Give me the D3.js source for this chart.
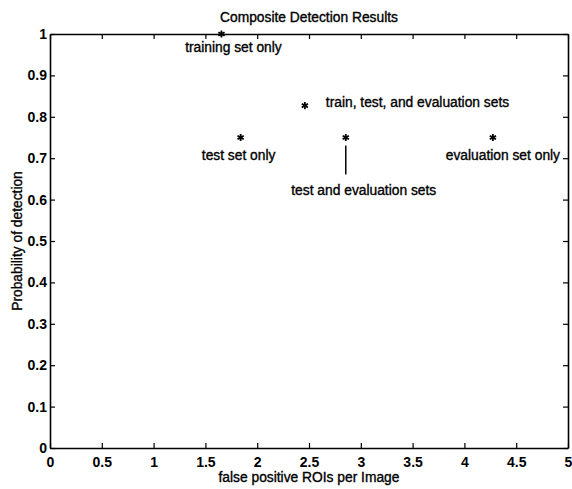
<!DOCTYPE html>
<html lang="en">
<head>
<meta charset="utf-8" />
<script src="https://d3js.org/d3.v7.min.js"></script>
<style>
  body { margin: 0; background: #fff; }
  text { font-family: "Liberation Sans", Arial, sans-serif; fill: #000; }
  .tick text { font-size: 14px; font-weight: bold; }
  .lbl { font-size: 13.8px; stroke: #000; stroke-width: 0.35px; }
</style>
</head>
<body>
<script>
// data
var setNames = ["training set only", "test set only", "train, test, and evaluation sets",
                "test and evaluation sets", "evaluation set only"];
var falsePos = [1.655, 1.84, 2.46, 2.855, 4.275];
var probDet  = [1.0, 0.75, 0.827, 0.75, 0.75];
var xTicks = [0, 0.5, 1, 1.5, 2, 2.5, 3, 3.5, 4, 4.5, 5];
var yTicks = [0, 0.1, 0.2, 0.3, 0.4, 0.5, 0.6, 0.7, 0.8, 0.9, 1];

// label placement relative to each point (px)
var labelPos = [
  {dx: 12, dy: 13, anchor: "middle"},
  {dx: -2, dy: 18, anchor: "middle"},
  {dx: 21, dy: -3, anchor: "start"},
  {dx: 18, dy: 53, anchor: "middle", stem: [8, 37]},
  {dx: 10, dy: 18, anchor: "middle"}
];

var width = 572, height = 489;
var margin = {top: 34, right: 4, bottom: 41, left: 50};

var svg = d3.select("body").append("svg")
    .attr("width", width)
    .attr("height", height);

var x = d3.scaleLinear().domain([0, 5]).range([margin.left, width - margin.right]);
var y = d3.scaleLinear().domain([0, 1]).range([height - margin.bottom, margin.top]);

function fmt(d) { return Number.isInteger(d) ? d3.format("d")(d) : d3.format(".1f")(d); }

// axes with inward ticks on all four sides
var g = svg.append("g");
g.append("g").attr("transform", "translate(0," + y(0) + ")")
  .call(d3.axisBottom(x).tickValues(xTicks).tickFormat(fmt).tickSizeInner(-5).tickSizeOuter(0).tickPadding(9));
g.append("g").attr("transform", "translate(0," + y(1) + ")")
  .call(d3.axisTop(x).tickValues(xTicks).tickFormat("").tickSizeInner(-5).tickSizeOuter(0));
g.append("g").attr("transform", "translate(" + x(0) + ",0)")
  .call(d3.axisLeft(y).tickValues(yTicks).tickFormat(fmt).tickSizeInner(-5).tickSizeOuter(0).tickPadding(3));
g.append("g").attr("transform", "translate(" + x(5) + ",0)")
  .call(d3.axisRight(y).tickValues(yTicks).tickFormat("").tickSizeInner(-5).tickSizeOuter(0));
g.selectAll(".domain").attr("stroke", "#000").attr("stroke-width", 1.6);
g.selectAll(".tick line").attr("stroke", "#000").attr("stroke-width", 1.2);
g.selectAll(".tick text").attr("font-family", null).attr("font-size", null);

// titles
svg.append("text").attr("class", "lbl")
  .attr("x", (x(0) + x(5)) / 2).attr("y", 22)
  .attr("text-anchor", "middle").text("Composite Detection Results");
svg.append("text").attr("class", "lbl")
  .attr("x", (x(0) + x(5)) / 2).attr("y", 482)
  .attr("text-anchor", "middle").text("false positive ROIs per Image");
svg.append("text").attr("class", "lbl")
  .attr("transform", "translate(22," + ((y(0) + y(1)) / 2) + ") rotate(-90)")
  .attr("text-anchor", "middle").text("Probability of detection");

// points
var pts = setNames.map(function (n, i) {
  return {name: n, x: falsePos[i], y: probDet[i], lp: labelPos[i]};
});

svg.selectAll("path.pt").data(pts).enter().append("path")
  .attr("class", "pt")
  .attr("transform", function (d) { return "translate(" + x(d.x) + "," + y(d.y) + ")"; })
  .attr("d", d3.symbol().type(d3.symbolAsterisk).size(36))
  .attr("fill", "none").attr("stroke", "#000").attr("stroke-width", 1.8);

svg.selectAll("text.pl").data(pts).enter().append("text")
  .attr("class", "pl lbl")
  .attr("x", function (d) { return x(d.x) + d.lp.dx; })
  .attr("y", function (d) { return y(d.y) + d.lp.dy; })
  .attr("dy", "0.35em")
  .attr("text-anchor", function (d) { return d.lp.anchor; })
  .text(function (d) { return d.name; });

svg.selectAll("line.stem").data(pts.filter(function (d) { return d.lp.stem; })).enter().append("line")
  .attr("class", "stem")
  .attr("x1", function (d) { return x(d.x); }).attr("x2", function (d) { return x(d.x); })
  .attr("y1", function (d) { return y(d.y) + d.lp.stem[0]; })
  .attr("y2", function (d) { return y(d.y) + d.lp.stem[1]; })
  .attr("stroke", "#000").attr("stroke-width", 1.5);
</script>
</body>
</html>
